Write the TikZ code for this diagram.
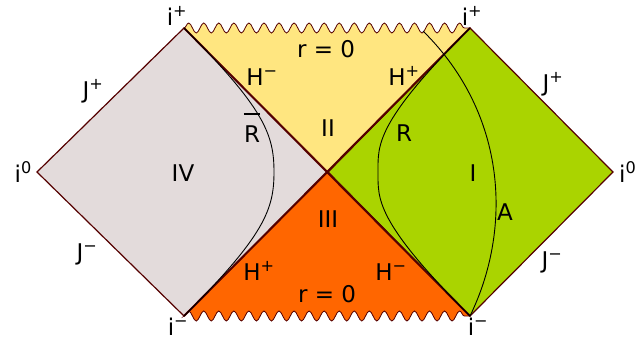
\documentclass[tikz,border=0pt]{standalone}
\usepackage{fontspec}
\setmainfont{DejaVu Sans}
\usepackage{tikz}
\usetikzlibrary{positioning,decorations.pathmorphing}
\definecolor{regone}{HTML}{AAD400}
\definecolor{regtwo}{HTML}{FFE680}
\definecolor{regthree}{HTML}{FF6600}
\definecolor{regfour}{HTML}{E3DBDB}
\definecolor{edge}{HTML}{550000}
\newcommand{\up}[1]{\textsuperscript{#1}}

\begin{document}
\begin{tikzpicture}[x=1pt,y=1pt,
      every node/.style={font=\fontsize{23}{27}\selectfont,inner sep=0pt},
      region/.style={draw=edge,line width=1.2pt,line join=miter},
      sing/.style={decoration={snake,amplitude=5pt,segment length=15.05pt}},
      horizon/.style={edge,line width=2pt},
      world/.style={black,line width=0.9pt}]
  \useasboundingbox (0,0) rectangle (643,-341);
  % corners of the diagram
  \coordinate (iol) at (37,-172);
  \coordinate (ipl) at (184,-28);
  \coordinate (iml) at (184,-316);
  \coordinate (ctr) at (328,-172);
  \coordinate (ipr) at (470,-28);
  \coordinate (imr) at (470,-316);
  \coordinate (ior) at (613,-172);
  % the four regions
  \filldraw[region,fill=regfour] (iol) -- (ipl) -- (ctr) -- (iml) -- cycle;
  \filldraw[region,fill=regone] (ctr) -- (ipr) -- (ior) -- (imr) -- cycle;
  \filldraw[region,fill=regtwo,line width=0.8pt] (ctr) -- (ipl) decorate[sing]{-- (ipr)} -- cycle;
  \filldraw[region,fill=regthree,line width=0.8pt] (ctr) -- (iml) decorate[sing]{-- (imr)} -- cycle;
  \draw[horizon] (ipl) -- (imr) (iml) -- (ipr);
  % worldlines
  \draw[world] (ipl) .. controls (265,-109) and (274,-135) .. (274,-172)
    .. controls (274,-209) and (265,-235) .. (iml);
  \draw[world] (ipr) .. controls (375,-123) and (378,-145) .. (378,-172)
    .. controls (378,-199) and (375,-221) .. (imr);
  \draw[world] (imr) .. controls (512,-230) and (508,-115) .. (423,-31);
  % labels
  \node (tpl) at (177,-16) {i\up{+}};
  \node (tpr) at (472,-16) {i\up{+}};
  \node (bml) at (178,-327) {i\up{−}};
  \node (bmr) at (478,-327) {i\up{−}};
  \node[left=5pt of iol] (zl) {i\up{0}};
  \node[right=6pt of ior] (zr) {i\up{0}};
  \node (jpl) at (93,-91) {J\up{+}};
  \node (jml) at (87,-254) {J\up{−}};
  \node (jpr) at (553,-84) {J\up{+}};
  \node (jmr) at (552,-262) {J\up{−}};
  \node (rzt) at (326,-49) {r = 0};
  \node (rzb) at (327,-294) {r = 0};
  \node (hmt) at (262,-77) {H\up{−}};
  \node (hpt) at (404,-76) {H\up{+}};
  \node (hpb) at (259,-271) {H\up{+}};
  \node (hmb) at (391,-272) {H\up{−}};
  \node (two) at (328,-128) {II};
  \node (three) at (328,-219) {III};
  \node (four) at (183,-173) {IV};
  \node (one) at (473,-173) {I};
  \node (acc) at (505,-212) {A};
  \node (rr) at (404,-133) {R};
  \node (rb) at (252,-134.5) {R};
  \draw[line width=1.2pt] ([yshift=12pt]rb.north west) -- ([yshift=12pt]rb.north east);
\end{tikzpicture}
\end{document}
